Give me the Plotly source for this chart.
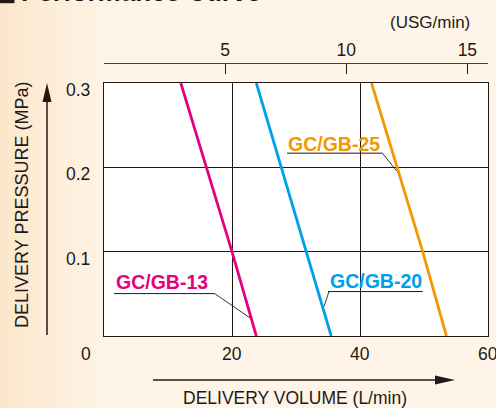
import plotly.graph_objects as go

# ---------------- data ----------------
pressure = [0.0, 0.1, 0.2, 0.3]            # MPa
vol_13 = [23.8, 20.0, 16.0, 12.0]          # L/min
vol_20 = [35.5, 31.6, 27.8, 23.8]
vol_25 = [53.5, 49.8, 45.8, 41.8]
series_names = ["GC/GB-13", "GC/GB-20", "GC/GB-25"]
series_vols = [vol_13, vol_20, vol_25]
colors = ["#E5007F", "#00A0E9", "#F39800"]
x_ticks = [0, 20, 40, 60]
x_tick_labels = ["0", "20", "40", "60"]
y_ticks = [0.1, 0.2, 0.3]
y_tick_labels = ["0.1", "0.2", "0.3"]
usg_ticks = [5, 10, 15]
L_PER_USG = 3.785

# ---------------- layout geometry ----------------
W, H = 496, 408
ML, MR, MT, MB = 104, 8, 63, 72
PLOT_TOP_PX = 83
FONT = "Liberation Sans, Arial, Helvetica, sans-serif"
INK = "#231815"


def PX(x):
    return (x - ML) / (W - ML - MR)


def PY(y):
    return (H - MB - y) / (H - MB - MT)


ydom_top = PY(PLOT_TOP_PX)

fig = go.Figure()

for name, vols, col in zip(series_names, series_vols, colors):
    fig.add_trace(go.Scatter(x=vols, y=pressure, mode="lines", name=name,
                             line=dict(color=col, width=2.8),
                             hoverinfo="skip", showlegend=False))

# invisible trace to activate the top (USG) axis
fig.add_trace(go.Scatter(x=[usg_ticks[0]], y=[0], xaxis="x2", yaxis="y",
                         mode="markers", marker=dict(opacity=0),
                         hoverinfo="skip", showlegend=False))

shapes = []
annotations = []

# background gradient on the left side (slightly more peach)
n = 13
c0 = (252, 231, 205)
c1 = (254, 243, 228)
for i in range(n):
    t = i / (n - 1)
    c = tuple(int(round(c0[k] + (c1[k] - c0[k]) * t)) for k in range(3))
    x0 = i * 8
    x1 = min(x0 + 8.5, ML)
    shapes.append(dict(type="rect", xref="paper", yref="paper",
                       x0=PX(x0), x1=PX(x1), y0=PY(H + 2), y1=PY(-2),
                       fillcolor="rgb(%d,%d,%d)" % c, line=dict(width=0), layer="below"))

# title bar square (mostly cut off at the top)
shapes.append(dict(type="rect", xref="paper", yref="paper",
                   x0=PX(0), x1=PX(14.5), y0=PY(3.2), y1=PY(-20),
                   fillcolor=INK, line=dict(width=0)))
annotations.append(dict(text="<b>Performance Curve</b>", xref="paper", yref="paper",
                        x=PX(19), y=PY(-8.5), xanchor="left", yanchor="middle",
                        showarrow=False, font=dict(family=FONT, size=26, color=INK)))

# y arrow
shapes.append(dict(type="line", xref="paper", yref="paper",
                   x0=PX(47), x1=PX(47), y0=PY(335), y1=PY(100),
                   line=dict(color=INK, width=1.5)))
shapes.append(dict(type="path", xref="paper", yref="paper",
                   path="M %f %f L %f %f L %f %f Z" % (PX(47), PY(83), PX(42.5), PY(102),
                                                       PX(51.5), PY(102)),
                   fillcolor=INK, line=dict(width=0)))
# x arrow
shapes.append(dict(type="line", xref="paper", yref="paper",
                   x0=PX(153), x1=PX(437), y0=PY(380), y1=PY(380),
                   line=dict(color=INK, width=1.5)))
shapes.append(dict(type="path", xref="paper", yref="paper",
                   path="M %f %f L %f %f L %f %f Z" % (PX(455), PY(380), PX(435), PY(375.5),
                                                       PX(435), PY(384.5)),
                   fillcolor=INK, line=dict(width=0)))

# series labels with underline + leader
label_pos = {
    "GC/GB-13": dict(tx=9.0, ty=0.0637, ux0=1.56, ux1=17.3, uy=0.0503,
                     lx0=17.3, ly0=0.0503, lx1=22.8, ly1=0.0215),
    "GC/GB-20": dict(tx=42.5, ty=0.0649, ux0=35.0, ux1=49.8, uy=0.0527,
                     lx0=35.15, ly0=0.0527, lx1=34.4, ly1=0.0353),
    "GC/GB-25": dict(tx=35.9, ty=0.2278, ux0=28.6, ux1=43.5, uy=0.2168,
                     lx0=43.5, ly0=0.2168, lx1=45.7, ly1=0.196),
}
for name, col in zip(series_names, colors):
    p = label_pos[name]
    annotations.append(dict(text="<b>%s</b>" % name, x=p["tx"], y=p["ty"], xref="x", yref="y",
                            showarrow=False, xanchor="center", yanchor="middle",
                            font=dict(family=FONT, size=19.5, color=col)))
    shapes.append(dict(type="line", xref="x", yref="y", x0=p["ux0"], x1=p["ux1"],
                       y0=p["uy"], y1=p["uy"], line=dict(color=INK, width=1)))
    shapes.append(dict(type="line", xref="x", yref="y", x0=p["lx0"], x1=p["lx1"],
                       y0=p["ly0"], y1=p["ly1"], line=dict(color=INK, width=0.9)))

# y tick labels (hang just below the grid lines)
for v, s in zip(y_ticks, y_tick_labels):
    annotations.append(dict(text=s, x=0, y=v, xref="paper", yref="y", xanchor="right",
                            yanchor="top", xshift=-12, yshift=5, showarrow=False,
                            font=dict(family=FONT, size=17.5, color=INK)))
# x tick labels ("0" sits at the corner, left of the axis start)
for v, s in zip(x_ticks, x_tick_labels):
    annotations.append(dict(text=s, x=v, y=0, xref="x", yref="y", xanchor="center",
                            yanchor="middle", xshift=(-18 if v == 0 else 0), yshift=-18,
                            showarrow=False, font=dict(family=FONT, size=17.5, color=INK)))

# axis titles
annotations.append(dict(text="DELIVERY PRESSURE (MPa)", xref="paper", yref="paper",
                        x=PX(22), y=PY(205), textangle=-90, showarrow=False,
                        xanchor="center", yanchor="middle",
                        font=dict(family=FONT, size=18, color=INK)))
annotations.append(dict(text="DELIVERY VOLUME (L/min)", xref="paper", yref="paper",
                        x=PX(295), y=PY(398), showarrow=False,
                        xanchor="center", yanchor="middle",
                        font=dict(family=FONT, size=17.5, color=INK)))
annotations.append(dict(text="(USG/min)", xref="paper", yref="paper",
                        x=PX(430), y=PY(22), showarrow=False,
                        xanchor="center", yanchor="middle",
                        font=dict(family=FONT, size=17, color=INK)))

fig.update_layout(
    width=W, height=H,
    margin=dict(l=ML, r=MR, t=MT, b=MB, pad=0),
    paper_bgcolor="#FEF5E8",
    plot_bgcolor="#FFFFFF",
    font=dict(family=FONT, size=17.5, color=INK),
    showlegend=False,
    xaxis=dict(range=[0, 60], tickvals=x_ticks[1:], showticklabels=False, ticks="",
               showgrid=True, gridcolor=INK, gridwidth=1, showline=True, linecolor=INK,
               linewidth=1.3, mirror=True, zeroline=False, anchor="y", fixedrange=True),
    yaxis=dict(range=[0, 0.3], domain=[0, ydom_top], tickvals=y_ticks, showticklabels=False,
               ticks="", showgrid=True, gridcolor=INK, gridwidth=1, showline=True,
               linecolor=INK, linewidth=1.3, mirror=True, zeroline=False, fixedrange=True),
    xaxis2=dict(range=[0, 60 / L_PER_USG], overlaying="x", side="top", anchor="free",
                position=1, tickvals=usg_ticks, ticks="inside", ticklen=10,
                tickcolor=INK, tickwidth=1.2, showline=True, linecolor="#444444",
                linewidth=1.2, showgrid=False, zeroline=False, ticklabelstandoff=0,
                tickfont=dict(family=FONT, size=17.5, color=INK), fixedrange=True),
    shapes=shapes,
    annotations=annotations,
)

fig.write_html("out.html", config={"displayModeBar": False, "staticPlot": True},
               post_script="document.body.style.margin='0';document.body.style.padding='0';")
